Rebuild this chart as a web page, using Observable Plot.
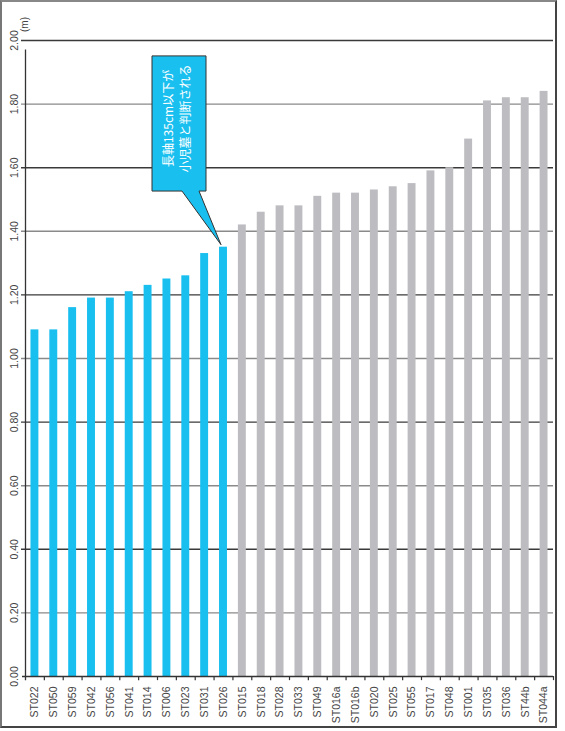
<!DOCTYPE html>
<html>
<head>
<meta charset="utf-8">
<script src="https://cdn.jsdelivr.net/npm/d3@7"></script>
<script src="https://cdn.jsdelivr.net/npm/@observablehq/plot@0.6"></script>
<style>
  html, body { margin: 0; padding: 0; background: #fff; }
  #wrap { position: relative; width: 565px; height: 731px; overflow: hidden; }
  #frame { position: absolute; left: 0; top: 0; width: 553px; height: 724px;
           border-left: 2px solid #777; border-top: 2px solid #888;
           border-right: 2px solid #444; border-bottom: 2px solid #444; pointer-events: none; }
  #chart { position: absolute; left: 0; top: 0; }
</style>
</head>
<body>
<div id="wrap"><div id="chart"></div><div id="frame"></div></div>
<script>
// ---- data ----
const names = ["ST022","ST050","ST059","ST042","ST056","ST041","ST014","ST006","ST023","ST031","ST026",
  "ST015","ST018","ST028","ST033","ST049","ST016a","ST016b","ST020","ST025","ST055","ST017","ST048",
  "ST001","ST035","ST036","ST44b","ST044a"];
const lengths = [1.09,1.09,1.16,1.19,1.19,1.21,1.23,1.25,1.26,1.33,1.35,
  1.42,1.46,1.48,1.48,1.51,1.52,1.52,1.53,1.54,1.55,1.59,1.60,
  1.69,1.81,1.82,1.82,1.84];
const childThreshold = 1.35;
const yTicks = [0,0.2,0.4,0.6,0.8,1.0,1.2,1.4,1.6,1.8,2.0];
const yTickLabels = ["0.00","0.20","0.40","0.60","0.80","1.00","1.20","1.40","1.60","1.80","2.00"];
const unitLabel = "(m)";
const calloutLines = ["長軸135cm以下が","小児墓と判断される"];
const calloutTarget = "ST026";

const data = names.map((n, i) => ({name: n, value: lengths[i], child: lengths[i] <= childThreshold}));

const W = 565, H = 731, mL = 25, mR = 12, mT = 40, mB = 55;
const step = (W - mL - mR) / names.length;
const cyan = "#19bfef", grey = "#bdbdc1";
const latin = "'Liberation Sans', Arial, sans-serif";

const chart = Plot.plot({
  width: W, height: H,
  marginLeft: mL, marginRight: mR, marginTop: mT, marginBottom: mB,
  style: {fontFamily: latin, background: "transparent"},
  x: {domain: names, paddingInner: 0.58, paddingOuter: 0.29, round: false, axis: null},
  y: {domain: [0, 2], axis: null},
  marks: [
    Plot.ruleY(yTicks.slice(1), {
      y: d => d,
      stroke: d => (Math.round(d * 5) % 2 === 0 ? "#3a3a3a" : "#8a8a8a"),
      strokeWidth: 1.4, insetLeft: -4
    }),
    Plot.barY(data, {x: "name", y: "value", fill: d => d.child ? cyan : grey}),
    Plot.ruleY([0], {stroke: "#333", strokeWidth: 1.5, insetLeft: -3}),
    Plot.ruleX([names[0]], {x: d => d, y1: -0.013, y2: 1.97, dx: -step / 2, stroke: "#333", strokeWidth: 1.3}),
    Plot.ruleX(names, {x: d => d, y1: 0, y2: -0.013, dx: step / 2, stroke: "#333", strokeWidth: 1.2}),
    Plot.text(yTicks, {
      y: d => d, text: (d, i) => yTickLabels[i], frameAnchor: "left", dx: -11,
      rotate: -90, textAnchor: "middle", lineAnchor: "middle", fontSize: 10.5, fill: "#444"
    }),
    Plot.text(names, {
      x: d => d, text: d => d, frameAnchor: "bottom", dy: 10,
      rotate: -90, textAnchor: "end", lineAnchor: "middle", fontSize: 10.5, fill: "#444"
    }),
    Plot.text([unitLabel], {
      text: d => d, frameAnchor: "top-left", dx: -1, dy: -16,
      rotate: -90, textAnchor: "middle", lineAnchor: "middle", fontSize: 10, fill: "#444"
    })
  ]
});
document.getElementById("chart").appendChild(chart);

// ---- callout built from the chart's own scales ----
const sx = chart.scale("x"), sy = chart.scale("y");
const fx = sx.apply ? v => sx.apply(v) : d3.scaleBand().domain(names).range([mL, W - mR]).paddingInner(0.58).paddingOuter(0.29);
const fy = sy.apply ? v => sy.apply(v) : d3.scaleLinear().domain([0, 2]).range([H - mB, mT]);
const bw = sx.bandwidth != null ? sx.bandwidth : (step * 0.42);
const tIdx = names.indexOf(calloutTarget);
const tipX = fx(calloutTarget) + bw / 2 - 2;
const tipY = fy(lengths[tIdx]) - 2;
const bx0 = tipX - 69, bx1 = tipX - 15, by0 = fy(1.95), by1 = fy(1.525);
const px0 = tipX - 39, px1 = tipX - 22;

const svg = d3.select(chart);
const g = svg.append("g");
g.append("path")
  .attr("d", `M${bx0},${by0}L${bx1},${by0}L${bx1},${by1}L${px1},${by1}L${tipX},${tipY}L${px0},${by1}L${bx0},${by1}Z`)
  .attr("fill", cyan).attr("stroke", "#333").attr("stroke-width", 1).attr("stroke-linejoin", "miter");
const cy = (by0 + by1) / 2 - 5;
calloutLines.forEach((line, i) => {
  const tx = bx0 + 17 + i * 17;
  g.append("text")
    .attr("transform", `translate(${tx},${cy}) rotate(-90)`)
    .attr("text-anchor", "middle").attr("dy", "0.35em")
    .attr("fill", "#fff").attr("font-size", 12)
    .attr("font-family", "'Noto Sans CJK JP', sans-serif")
    .text(line);
});
</script>
</body>
</html>
